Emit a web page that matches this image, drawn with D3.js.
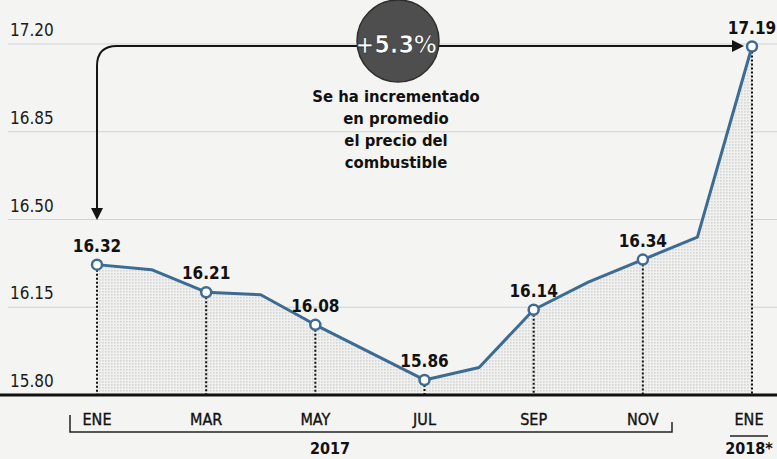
<html lang="es">
<head>
<meta charset="UTF-8">
<title>Precio del combustible</title>
<style>
  body { margin: 0; background: #f4f4f2; }
  svg { display: block; }
  text { font-family: "DejaVu Sans Condensed", "Liberation Sans Narrow", sans-serif; }
</style>
</head>
<body>
<svg id="chart" width="777" height="459"></svg>
<script src="https://d3js.org/d3.v7.min.js"></script>
<script>
// datos: precio mensual ENE 2017 - ENE 2018
const months = ["ENE","FEB","MAR","ABR","MAY","JUN","JUL","AGO","SEP","OCT","NOV","DIC","ENE"];
const prices = [16.32, 16.30, 16.21, 16.20, 16.08, 15.97, 15.86, 15.91, 16.14, 16.25, 16.34, 16.43, 17.19];
const labeled = [0, 2, 4, 6, 8, 10, 12]; // meses con etiqueta
const yTicks = [15.80, 16.15, 16.50, 16.85, 17.20];

const svg = d3.select("#chart");
const W = 777, H = 459;

const x = d3.scaleLinear().domain([0, months.length - 1]).range([97, 752]);
const y = d3.scaleLinear().domain([15.80, 17.20]).range([395, 44]);

const blue = "#3c6b93";

// patron de puntos para el area
const defs = svg.append("defs");
const pat = defs.append("pattern").attr("id", "dots")
  .attr("width", 3).attr("height", 3).attr("patternUnits", "userSpaceOnUse");
pat.append("rect").attr("width", 3).attr("height", 3).attr("fill", "#f0f0ef");
pat.append("rect").attr("width", 1.6).attr("height", 1.6).attr("fill", "#d6d6d6");

// lineas de cuadricula + etiquetas eje y
svg.append("g").selectAll("line").data(yTicks.slice(1)).join("line")
  .attr("x1", 8).attr("x2", W)
  .attr("y1", d => y(d)).attr("y2", d => y(d))
  .attr("stroke", "#d2d2d2").attr("stroke-width", 1);

svg.append("g").selectAll("text").data(yTicks).join("text")
  .attr("x", 10).attr("y", d => y(d) - 8)
  .attr("font-size", 17).attr("fill", "#1a1a1a")
  .text(d => d.toFixed(2));

// area punteada
const area = d3.area().x((d, i) => x(i)).y0(y(15.80)).y1(d => y(d));
svg.append("path").datum(prices).attr("d", area).attr("fill", "url(#dots)");

// lineas verticales punteadas
svg.append("g").selectAll("line").data(labeled).join("line")
  .attr("x1", i => x(i)).attr("x2", i => x(i))
  .attr("y1", i => y(prices[i]) + 5).attr("y2", y(15.80))
  .attr("stroke", "#111").attr("stroke-width", 2)
  .attr("stroke-dasharray", "2,2");

// eje base
svg.append("line").attr("x1", 0).attr("x2", W)
  .attr("y1", y(15.80)).attr("y2", y(15.80))
  .attr("stroke", "#111").attr("stroke-width", 3);

// linea de precios
const line = d3.line().x((d, i) => x(i)).y(d => y(d));
svg.append("path").datum(prices).attr("d", line)
  .attr("fill", "none").attr("stroke", blue).attr("stroke-width", 3)
  .attr("stroke-linejoin", "round");

// puntos
svg.append("g").selectAll("circle").data(labeled).join("circle")
  .attr("cx", i => x(i)).attr("cy", i => y(prices[i])).attr("r", 5)
  .attr("fill", "#fff").attr("stroke", blue).attr("stroke-width", 2.5);

// etiquetas de valor
svg.append("g").selectAll("text").data(labeled).join("text")
  .attr("x", i => x(i)).attr("y", i => y(prices[i]) - 13)
  .attr("text-anchor", "middle").attr("font-size", 17).attr("font-weight", "bold")
  .attr("fill", "#111")
  .text(i => prices[i].toFixed(2));

// etiquetas eje x
svg.append("g").selectAll("text").data(labeled).join("text")
  .attr("x", i => x(i) - (i === 12 ? 3 : 0)).attr("y", 425)
  .attr("text-anchor", "middle").attr("font-size", 16).attr("fill", "#111")
  .attr("stroke", "#111").attr("stroke-width", 0.35)
  .text(i => months[i]);

// corchete 2017
svg.append("path")
  .attr("d", `M70,415 V432 H672 V422`)
  .attr("fill", "none").attr("stroke", "#222").attr("stroke-width", 1.5);
svg.append("text").attr("x", 330).attr("y", 454)
  .attr("text-anchor", "middle").attr("font-size", 16).attr("font-weight", "bold")
  .attr("fill", "#111").text("2017");

// 2018
svg.append("line").attr("x1", 730).attr("x2", 768).attr("y1", 436).attr("y2", 436)
  .attr("stroke", "#222").attr("stroke-width", 1.5);
svg.append("text").attr("x", 749).attr("y", 454)
  .attr("text-anchor", "middle").attr("font-size", 16).attr("font-weight", "bold")
  .attr("fill", "#111").text("2018*");

// flecha de anotacion
const ay = 46, ax = x(0), r = 20;
svg.append("path")
  .attr("d", `M${ax},212 V${ay + r} Q${ax},${ay} ${ax + r},${ay} H${x(12) - 18}`)
  .attr("fill", "none").attr("stroke", "#151515").attr("stroke-width", 2);
svg.append("path")
  .attr("d", `M${ax - 6},208 L${ax + 6},208 L${ax},220 Z`).attr("fill", "#151515");
svg.append("path")
  .attr("d", `M${x(12) - 20},${ay - 6} L${x(12) - 20},${ay + 6} L${x(12) - 8},${ay} Z`)
  .attr("fill", "#151515");

// circulo +5.3%
svg.append("circle").attr("cx", 398).attr("cy", 41).attr("r", 41)
  .attr("fill", "#4e4e4e").attr("stroke", "#2e2e2e").attr("stroke-width", 1.5);
svg.append("text").attr("x", 396).attr("y", 53)
  .attr("text-anchor", "middle").attr("font-size", 25).attr("font-weight", "bold")
  .attr("fill", "#fff").attr("stroke", "#222").attr("stroke-width", 0.6)
  .text("+5.3%");

// texto de anotacion
const note = ["Se ha incrementado", "en promedio", "el precio del", "combustible"];
svg.append("g").selectAll("text").data(note).join("text")
  .attr("x", 396).attr("y", (d, i) => 102 + i * 22)
  .attr("text-anchor", "middle").attr("font-size", 16.5).attr("font-weight", "bold")
  .attr("fill", "#111")
  .text(d => d);
</script>
</body>
</html>
